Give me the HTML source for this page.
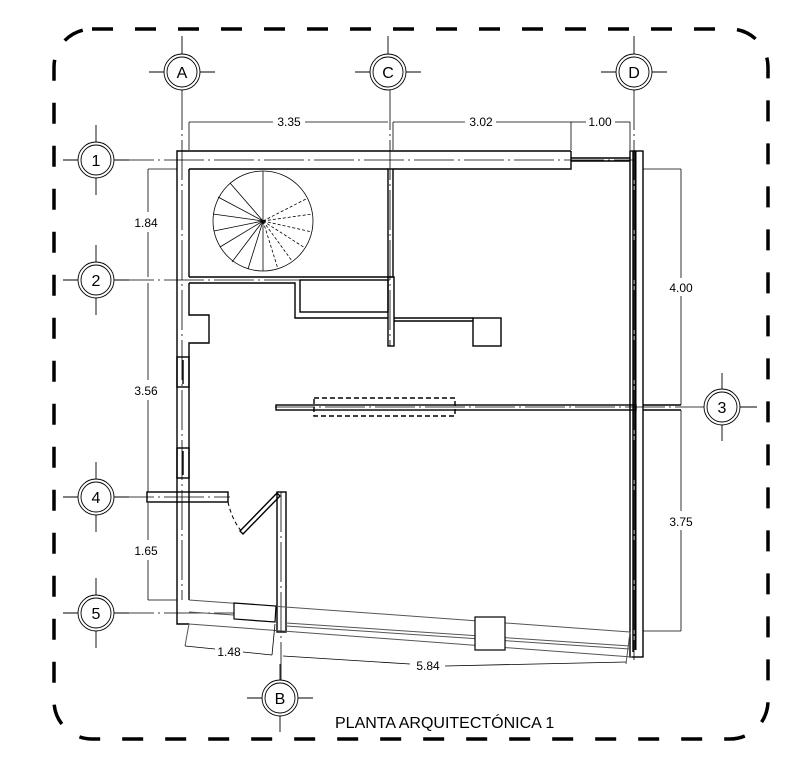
<!DOCTYPE html>
<html><head><style>html,body{margin:0;padding:0;background:#fff}svg{display:block}</style></head>
<body>
<svg width="812" height="760" viewBox="0 0 812 760" xmlns="http://www.w3.org/2000/svg" font-family="Liberation Sans, sans-serif">
<rect x="0" y="0" width="812" height="760" fill="#fff"/>
<!-- border -->
<rect x="54" y="29" width="714" height="710" rx="38" ry="38" fill="none" stroke="#000" stroke-width="3.5" stroke-dasharray="21 22"/>

<!-- grid lines (dash-dot, thin) -->
<g stroke="#000" stroke-width="0.8" fill="none" stroke-dasharray="40 4 2 4">
<line x1="182" y1="90" x2="182" y2="600"/>
<line x1="390" y1="90" x2="390" y2="346"/>
<line x1="634" y1="90" x2="634" y2="660"/>
<line x1="114" y1="160" x2="634" y2="160"/>
<line x1="114" y1="280" x2="390" y2="280"/>
<line x1="275" y1="407" x2="704" y2="407"/>
<line x1="114" y1="497" x2="230" y2="497"/>
<line x1="114" y1="613" x2="234" y2="613"/>
<line x1="281" y1="492" x2="281" y2="680"/>
</g>

<!-- bubbles -->
<g stroke="#000" fill="#fff">
<g stroke-width="0.9">
<line x1="182" y1="36" x2="182" y2="90"/><line x1="149" y1="72" x2="215" y2="72"/>
<line x1="388" y1="36" x2="388" y2="90"/><line x1="355" y1="72" x2="421" y2="72"/>
<line x1="634" y1="36" x2="634" y2="90"/><line x1="601" y1="72" x2="667" y2="72"/>
<line x1="96" y1="125" x2="96" y2="195"/><line x1="63" y1="160" x2="129" y2="160"/>
<line x1="96" y1="245" x2="96" y2="315"/><line x1="63" y1="280" x2="129" y2="280"/>
<line x1="96" y1="462" x2="96" y2="532"/><line x1="63" y1="497" x2="129" y2="497"/>
<line x1="96" y1="578" x2="96" y2="648"/><line x1="63" y1="613" x2="129" y2="613"/>
<line x1="722" y1="373" x2="722" y2="441"/><line x1="704" y1="407" x2="757" y2="407"/>
<line x1="280" y1="664" x2="280" y2="732"/><line x1="247" y1="698" x2="313" y2="698"/>
</g>
<g stroke-width="0.9">
<circle cx="182" cy="72" r="18"/><circle cx="182" cy="72" r="15"/>
<circle cx="388" cy="72" r="18"/><circle cx="388" cy="72" r="15"/>
<circle cx="634" cy="72" r="18"/><circle cx="634" cy="72" r="15"/>
<circle cx="96" cy="160" r="18"/><circle cx="96" cy="160" r="15"/>
<circle cx="96" cy="280" r="18"/><circle cx="96" cy="280" r="15"/>
<circle cx="96" cy="497" r="18"/><circle cx="96" cy="497" r="15"/>
<circle cx="96" cy="613" r="18"/><circle cx="96" cy="613" r="15"/>
<circle cx="722" cy="407" r="18"/><circle cx="722" cy="407" r="15"/>
<circle cx="280" cy="698" r="18"/><circle cx="280" cy="698" r="15"/>
</g>
</g>
<g font-size="16" text-anchor="middle" fill="#000">
<text x="182" y="78">A</text><text x="388" y="78">C</text><text x="634" y="78">D</text>
<text x="96" y="166">1</text><text x="96" y="286">2</text><text x="96" y="503">4</text>
<text x="96" y="619">5</text><text x="722" y="413">3</text><text x="280" y="704">B</text>
</g>

<!-- walls -->
<g stroke="#000" stroke-width="1.4" fill="none">
<!-- top wall -->
<polyline points="571,151 177,151 177,624 189,624"/>
<polyline points="571,151 571,169 393,169"/>
<line x1="189" y1="169" x2="388" y2="169"/>
<line x1="571" y1="158" x2="630" y2="158"/><line x1="571" y1="161" x2="630" y2="161"/>
<!-- left wall inner -->
<line x1="189" y1="169" x2="189" y2="277"/>
<polyline points="189,283 189,315 209,315 209,343 189,343 189,600"/>
<rect x="177" y="357" width="12" height="30"/>
<rect x="177" y="448" width="12" height="30"/>
<line x1="183" y1="360" x2="183" y2="384"/><line x1="183" y1="451" x2="183" y2="475"/>
<!-- wall C -->
<rect x="388" y="169" width="5" height="108"/>
<rect x="388" y="277" width="6" height="69"/>
<!-- wall 2 -->
<line x1="189" y1="277" x2="388" y2="277"/>
<polyline points="189,283 295,283 295,318 388,318"/>
<rect x="300" y="280" width="88" height="32"/>
<line x1="394" y1="318" x2="473" y2="318"/><line x1="394" y1="321" x2="473" y2="321"/>
<rect x="473" y="318" width="28" height="28"/>
<!-- wall 3 -->
<rect x="276" y="405" width="360" height="5"/>
<line x1="643" y1="405" x2="681" y2="405"/><line x1="643" y1="410" x2="681" y2="410"/>
<rect x="314" y="398" width="141" height="18" stroke-dasharray="5 3"/>
<!-- right wall -->
<rect x="630" y="151" width="13" height="506"/>
<line x1="633" y1="151" x2="633" y2="652"/>
<line x1="635.5" y1="151" x2="635.5" y2="650" stroke-width="2"/>
<!-- wall 4 -->
<rect x="147" y="492" width="81" height="10"/>
<!-- door -->
<polygon points="277,493 280,496 243,534 240,531"/>
<path d="M228,502 Q232,520 242,532" stroke-dasharray="4 3" stroke-width="1"/>
<!-- wall B -->
<rect x="277" y="492" width="9" height="140"/>
</g>
<!-- bottom slanted wall -->
<g stroke="#555" stroke-width="1" fill="none">
<line x1="189" y1="600" x2="630" y2="632"/>
<line x1="189" y1="612" x2="234" y2="615"/>
<line x1="286" y1="623" x2="630" y2="646"/>
<line x1="286" y1="626" x2="630" y2="649"/>
<line x1="189" y1="624" x2="632" y2="657"/>
<line x1="630" y1="632" x2="626" y2="664"/>
<line x1="189" y1="624" x2="185" y2="646"/>
</g>
<g stroke="#000" stroke-width="1.2" fill="#fff">
<polygon points="234,603 276,606 275,622 234,619"/>
<rect x="475" y="617" width="30" height="33"/>
</g>

<!-- spiral stair -->
<g stroke="#000" stroke-width="0.8" fill="none">
<circle cx="263" cy="221" r="50"/>
<line x1="263" y1="221" x2="263" y2="171"/>
<line x1="263" y1="221" x2="230" y2="183"/>
<line x1="263" y1="221" x2="218" y2="197"/>
<line x1="263" y1="221" x2="213" y2="214"/>
<line x1="263" y1="221" x2="214" y2="231"/>
<line x1="263" y1="221" x2="220" y2="247"/>
<line x1="263" y1="221" x2="232" y2="262"/>
<line x1="263" y1="221" x2="248" y2="269"/>
<line x1="263" y1="221" x2="263" y2="271"/>
<g stroke-dasharray="3 2">
<line x1="263" y1="221" x2="278" y2="269"/>
<line x1="263" y1="221" x2="292" y2="261"/>
<line x1="263" y1="221" x2="305" y2="248"/>
<line x1="263" y1="221" x2="312" y2="232"/>
<line x1="263" y1="221" x2="312" y2="214"/>
<line x1="263" y1="221" x2="306" y2="199"/>
</g>
</g>

<!-- dimension lines -->
<g stroke="#000" stroke-width="0.8" fill="none">
<line x1="189" y1="122" x2="273" y2="122"/><line x1="305" y1="122" x2="388" y2="122"/>
<line x1="393" y1="122" x2="465" y2="122"/><line x1="496" y1="122" x2="571" y2="122"/>
<line x1="571" y1="122" x2="586" y2="122"/><line x1="615" y1="122" x2="630" y2="122"/>
<line x1="189" y1="122" x2="189" y2="150"/><line x1="393" y1="122" x2="393" y2="150"/>
<line x1="571" y1="122" x2="571" y2="150"/><line x1="630" y1="122" x2="630" y2="150"/>
<line x1="148" y1="169" x2="148" y2="212"/><line x1="148" y1="232" x2="148" y2="277"/>
<line x1="148" y1="283" x2="148" y2="380"/><line x1="148" y1="400" x2="148" y2="492"/>
<line x1="148" y1="503" x2="148" y2="540"/><line x1="148" y1="560" x2="148" y2="600"/>
<line x1="148" y1="169" x2="177" y2="169"/><line x1="148" y1="600" x2="177" y2="600"/>
<line x1="681" y1="169" x2="681" y2="278"/><line x1="681" y1="296" x2="681" y2="405"/>
<line x1="681" y1="410" x2="681" y2="511"/><line x1="681" y1="530" x2="681" y2="631"/>
<line x1="643" y1="169" x2="681" y2="169"/><line x1="643" y1="631" x2="681" y2="631"/>
<line x1="185" y1="646" x2="215" y2="649"/><line x1="243" y1="652" x2="272" y2="655"/>
<line x1="272" y1="655" x2="275" y2="624"/>
<line x1="283" y1="656" x2="410" y2="664"/><line x1="445" y1="666" x2="626" y2="662"/>
</g>
<g font-size="12" fill="#000" text-anchor="middle">
<text x="289" y="126">3.35</text><text x="481" y="126">3.02</text><text x="600" y="126">1.00</text>
<text x="146" y="227">1.84</text><text x="146" y="395">3.56</text><text x="146" y="555">1.65</text>
<text x="681" y="292">4.00</text><text x="681" y="526">3.75</text>
<text x="229" y="656">1.48</text><text x="428" y="670">5.84</text>
</g>
<text x="335" y="728" font-size="16" fill="#000">PLANTA ARQUITECTÓNICA 1</text>
</svg>
</body></html>
